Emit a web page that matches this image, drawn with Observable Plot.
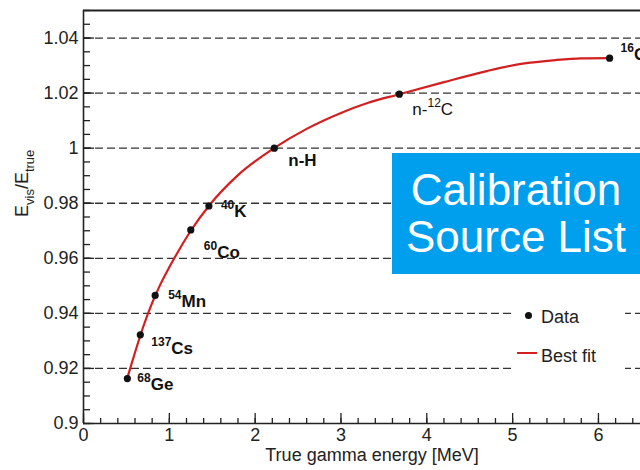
<!DOCTYPE html>
<html>
<head>
<meta charset="utf-8">
<script src="https://cdn.jsdelivr.net/npm/d3@7"></script>
<script src="https://cdn.jsdelivr.net/npm/@observablehq/plot@0.6"></script>
<style>
  html, body { margin: 0; padding: 0; background: #fff; }
  #wrap { position: relative; width: 640px; height: 470px; overflow: hidden; font-family: "Liberation Sans", Arial, sans-serif; }
  #wrap svg { position: absolute; left: 0; top: 0; }
  #banner { position: absolute; left: 392px; top: 153px; width: 248px; height: 121px; background: #009fee; color: #fff;
            font-size: 44px; line-height: 47px; text-align: center; padding-top: 13px; box-sizing: border-box; }
  #legend { position: absolute; left: 513px; top: 292px; width: 112px; height: 86px; background: #fff; }
  .lg-text { position: absolute; font-size: 18px; line-height: 18px; color: #222; white-space: nowrap; }
</style>
</head>
<body>
<div id="wrap"></div>
<script>
// ---- data ----
const sourceEnergy = [0.511, 0.662, 0.835, 1.25, 1.461, 2.223, 3.68, 6.13];       // MeV
const sourceRatio  = [0.9163, 0.9322, 0.9465, 0.9703, 0.9790, 1.0000, 1.0196, 1.0327];
const sourceLabels = ["^{68}Ge", "^{137}Cs", "^{54}Mn", "^{60}Co", "^{40}K", "n-H", "n-^{12}C", "^{16}O"];

const fitEnergy = [0.51, 0.6, 0.7, 0.8, 0.9, 1.0, 1.1, 1.25, 1.46, 1.8, 2.22, 2.6, 3.0, 3.3, 3.68, 4.2, 4.7, 5.1, 5.5, 5.8, 6.13];
const fitRatio  = [0.9165, 0.9258, 0.9355, 0.9438, 0.9508, 0.9568, 0.9623, 0.9700, 0.9790, 0.9902, 1.0000, 1.0070, 1.0128, 1.0163, 1.0196, 1.0240, 1.0280, 1.0306, 1.0320, 1.0326, 1.0327];

const yTickValues = [0.9, 0.92, 0.94, 0.96, 0.98, 1.0, 1.02, 1.04];
const yGridValues = [0.92, 0.94, 0.96, 0.98, 1.0, 1.02, 1.04];
const xTickValues = [0, 1, 2, 3, 4, 5, 6];

const xTitle = "True gamma energy [MeV]";
const yTitle = "E_{vis}/E_{true}";
const legendNames = ["Data", "Best fit"];
const bannerLines = ["Calibration", "Source List"];

// ---- build tables ----
const points = sourceEnergy.map((e, i) => ({x: e, y: sourceRatio[i], label: sourceLabels[i]}));
const fit = fitEnergy.map((e, i) => ({x: e, y: fitRatio[i]}));

// label styling (offsets in px relative to each point)
const labelStyle = {
  "^{68}Ge":  {dx: 10, dy: 11, bold: true},
  "^{137}Cs": {dx: 11, dy: 19, bold: true},
  "^{54}Mn":  {dx: 13, dy: 12, bold: true},
  "^{60}Co":  {dx: 13, dy: 28, bold: true},
  "^{40}K":   {dx: 12, dy: 11, bold: true},
  "n-H":      {dx: 14, dy: 18, bold: true},
  "n-^{12}C": {dx: 13, dy: 21, bold: false},
  "^{16}O":   {dx: 11, dy: 2,  bold: true}
};

const W = 640, H = 470, mL = 83, mT = 10, mB = 47, mR = 0;
const frameW = W - mL - mR, frameH = H - mT - mB;

const yMinor = d3.range(0.9, 1.0501, 0.005).map(v => +v.toFixed(3));
const xMinor = d3.range(0, 6.5, 0.2).map(v => +v.toFixed(2));

const labelMarks = points.map(p => {
  const s = labelStyle[p.label];
  return Plot.text([p], {x: "x", y: "y", text: "label", dx: s.dx, dy: s.dy,
    textAnchor: "start", lineAnchor: "bottom", fontSize: 17, fontWeight: s.bold ? "bold" : "normal", fill: "#111"});
});

const chart = Plot.plot({
  width: W, height: H,
  marginLeft: mL, marginTop: mT, marginBottom: mB, marginRight: mR,
  style: {fontFamily: "'Liberation Sans', Arial, sans-serif", fontSize: "18px", background: "#fff", color: "#222"},
  x: {domain: [0, 6.49]},
  y: {domain: [0.9, 1.05]},
  marks: [
    Plot.ruleY(yGridValues, {stroke: "#333", strokeWidth: 1.3, strokeDasharray: "8,4"}),
    // ticks (inside)
    Plot.tickY(yMinor, {y: d => d, insetRight: frameW - 7, stroke: "#222", strokeWidth: 1.3}),
    Plot.tickY(yTickValues, {y: d => d, insetRight: frameW - 11, stroke: "#222", strokeWidth: 1.3}),
    Plot.tickX(xMinor, {x: d => d, insetTop: frameH - 5, stroke: "#222", strokeWidth: 1.3}),
    Plot.tickX(xTickValues, {x: d => d, insetTop: frameH - 10, stroke: "#222", strokeWidth: 1.3}),
    // frame
    Plot.ruleX([0], {stroke: "#222", strokeWidth: 1.6}),
    Plot.ruleY([0.9], {stroke: "#222", strokeWidth: 1.6}),
    Plot.ruleY([1.05], {stroke: "#222", strokeWidth: 2}),
    // axes labels
    Plot.axisY({ticks: yTickValues, tickSize: 0, tickPadding: 5, fontSize: 18, label: null,
      tickFormat: d => String(+d.toFixed(2))}),
    Plot.axisX({ticks: xTickValues, tickSize: 0, tickPadding: 5, fontSize: 18, label: null,
      tickFormat: d => String(d)}),
    Plot.text([xTitle], {frameAnchor: "bottom", dx: 10, dy: 37, lineAnchor: "bottom", fontSize: 18, fill: "#222"}),
    Plot.text([yTitle], {frameAnchor: "left", dx: -56, rotate: -90, lineAnchor: "bottom", fontSize: 18, fill: "#222"}),
    // data
    Plot.line(fit, {x: "x", y: "y", stroke: "#d21f1f", strokeWidth: 2.2, curve: "monotone-x"}),
    Plot.dot(points, {x: "x", y: "y", r: 3.6, fill: "#111"}),
    ...labelMarks
  ]
});

// rich text: ^{..} superscript, _{..} subscript
const NS = "http://www.w3.org/2000/svg";
chart.querySelectorAll("text").forEach(t => {
  const s = t.textContent;
  if (!/[\^_]\{/.test(s)) return;
  const g = t.closest("g[font-size]");
  const fs = g ? parseFloat(g.getAttribute("font-size")) : 18;
  const small = Math.round(fs * 0.7), sup = Math.round(fs * 0.47), sub = Math.round(fs * 0.35);
  t.textContent = "";
  let shift = 0;
  const re = /([\^_])\{([^}]*)\}|([^\^_]+)/g;
  let m;
  while ((m = re.exec(s))) {
    const ts = document.createElementNS(NS, "tspan");
    const target = m[1] === "^" ? -sup : m[1] === "_" ? sub : 0;
    if (target !== shift) ts.setAttribute("dy", target - shift);
    shift = target;
    if (m[1]) ts.setAttribute("font-size", small);
    ts.textContent = m[1] ? m[2] : m[3];
    t.appendChild(ts);
  }
});

const wrap = document.getElementById("wrap");
wrap.appendChild(chart);

// banner
const banner = document.createElement("div");
banner.id = "banner";
banner.innerHTML = bannerLines.join("<br>");
wrap.appendChild(banner);

// legend
const legend = document.createElement("div");
legend.id = "legend";
legend.innerHTML = `
  <div style="position:absolute;left:${528-513-3.5}px;top:${315-292-3.5}px;width:7px;height:7px;border-radius:50%;background:#111"></div>
  <span class="lg-text" style="left:${541-513}px;top:${308-292}px">${legendNames[0]}</span>
  <div style="position:absolute;left:${517-513}px;top:${352-292}px;width:20px;height:2px;background:#d21f1f"></div>
  <span class="lg-text" style="left:${541-513}px;top:${347-292}px">${legendNames[1]}</span>`;
wrap.appendChild(legend);
</script>
</body>
</html>
